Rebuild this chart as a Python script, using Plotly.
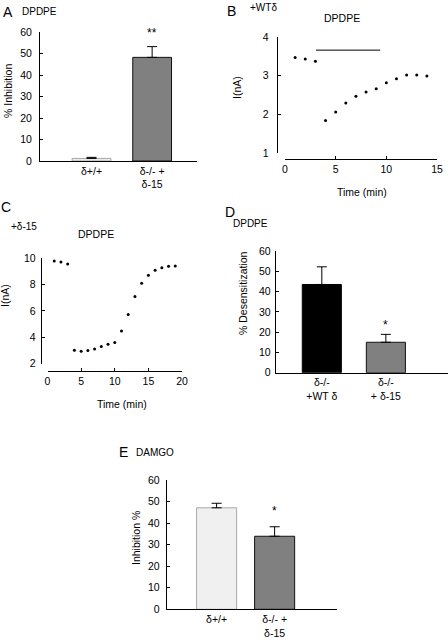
import plotly.graph_objects as go

W, H = 448, 640


def fx(px):
    return px / W


def fy(py):
    return 1 - py / H


# ---------------- data ----------------
a_categories = ["δ+/+", "δ-/- +<br>δ-15"]
a_values = [1.2, 48.2]
a_errors = [0.5, 5.0]

b_time = [1, 2, 3, 4, 5, 6, 7, 8, 9, 10, 11, 12, 13, 14]
b_current = [3.47, 3.43, 3.37, 1.84, 2.06, 2.29, 2.47, 2.58, 2.66, 2.82, 2.92, 3.02, 3.02, 2.99]
b_drug_on, b_drug_off, b_drug_level = 3.05, 9.4, 3.66

c_time = list(range(1, 20))
c_current = [9.80, 9.72, 9.57, 3.01, 2.94, 2.99, 3.11, 3.29, 3.47, 3.59,
             4.48, 5.72, 7.09, 8.10, 8.71, 9.09, 9.29, 9.39, 9.42]
c_drug_on, c_drug_off, c_drug_level = 3.35, 11.0, 10.43

d_categories = ["δ-/-<br>+WT δ", "δ-/-<br>+ δ-15"]
d_values = [43.5, 15.0]
d_errors = [8.7, 3.9]

e_categories = ["δ+/+", "δ-/- +<br>δ-15"]
e_values = [47.1, 33.9]
e_errors = [2.1, 4.4]

FONT = "Liberation Sans, Arial, sans-serif"
TICKF = dict(family=FONT, size=10.5, color="black")

fig = go.Figure()

# A
fig.add_trace(go.Bar(
    x=a_categories, y=a_values, xaxis="x", yaxis="y", width=0.64,
    marker=dict(color=["#ececec", "#808080"], line=dict(color=["#a8a8a8", "#111111"], width=1)),
    error_y=dict(type="data", array=a_errors, arrayminus=[0, 0], symmetric=False,
                 color="black", thickness=1, width=5),
))
# B
fig.add_trace(go.Scatter(
    x=b_time, y=b_current, xaxis="x2", yaxis="y2", mode="markers",
    marker=dict(color="black", size=3), cliponaxis=False,
))
# C
fig.add_trace(go.Scatter(
    x=c_time, y=c_current, xaxis="x3", yaxis="y3", mode="markers",
    marker=dict(color="black", size=3), cliponaxis=False,
))
# D
fig.add_trace(go.Bar(
    x=d_categories, y=d_values, xaxis="x4", yaxis="y4", width=0.61,
    marker=dict(color=["#000000", "#808080"], line=dict(color=["#000000", "#111111"], width=1)),
    error_y=dict(type="data", array=d_errors, arrayminus=[0, 0], symmetric=False,
                 color="black", thickness=1, width=5),
))
# E
fig.add_trace(go.Bar(
    x=e_categories, y=e_values, xaxis="x5", yaxis="y5", width=0.69,
    marker=dict(color=["#f0f0f0", "#808080"], line=dict(color=["#a8a8a8", "#111111"], width=1)),
    error_y=dict(type="data", array=e_errors, arrayminus=[0, 0], symmetric=False,
                 color="black", thickness=1, width=5),
))

line_common = dict(showline=True, linecolor="black", linewidth=1, showgrid=False,
                   zeroline=False, tickfont=TICKF, ticklen=3, tickcolor="black",
                   automargin=False, fixedrange=True)


def cat_x(dom, rng, anchor):
    return dict(domain=[fx(dom[0]), fx(dom[1])], range=rng, type="category",
                anchor=anchor, ticks="", ticklabelstandoff=0,
                **{k: v for k, v in line_common.items() if k not in ("ticklen",)})


def bar_y(dom, anchor, standoff):
    return dict(domain=[fy(dom[1]), fy(dom[0])], range=[0, 60], dtick=10, anchor=anchor,
                ticks="inside", ticklabelstandoff=standoff, **line_common)


fig.update_layout(
    width=W, height=H, margin=dict(l=0, r=0, t=0, b=0, autoexpand=False),
    paper_bgcolor="white", plot_bgcolor="rgba(0,0,0,0)",
    showlegend=False, font=dict(family=FONT, size=10.5, color="black"),
    bargap=0, hovermode=False,
    xaxis=cat_x((40, 197), [-0.85, 1.74], "y"),
    yaxis=bar_y((32, 161), "x", 5),
    xaxis2=dict(domain=[fx(285), fx(437)], range=[0, 15], dtick=5, anchor="free",
                position=fy(159), ticks="inside", **line_common),
    yaxis2=dict(domain=[fy(153), fy(37)], range=[1, 4], dtick=1, anchor="free",
                position=fx(276.7), ticks="inside", ticklabelstandoff=6, **line_common),
    xaxis3=dict(domain=[fx(47.5), fx(182)], range=[0, 20], dtick=5, anchor="free",
                position=fy(371), ticks="inside", **line_common),
    yaxis3=dict(domain=[fy(363.5), fy(258.3)], range=[2, 10], dtick=2, anchor="free",
                position=fx(40.7), ticks="inside", ticklabelstandoff=3, **line_common),
    xaxis4=cat_x((275.7, 448), [-0.72, 1.97], "y4"),
    yaxis4=bar_y((251, 372.7), "x4", 2),
    xaxis5=cat_x((166.7, 337.3), [-0.86, 2.08], "y5"),
    yaxis5=bar_y((480, 609.3), "x5", 4),
)

shapes = [
    dict(type="line", xref="x2", yref="y2", x0=b_drug_on, x1=b_drug_off,
         y0=b_drug_level, y1=b_drug_level, line=dict(color="black", width=1)),
    dict(type="line", xref="x3", yref="y3", x0=c_drug_on, x1=c_drug_off,
         y0=c_drug_level, y1=c_drug_level, line=dict(color="black", width=1)),
]
fig.update_layout(shapes=shapes)


def txt(text, x, y, size=10.5, angle=0):
    return dict(text=text, x=fx(x), y=fy(y), xref="paper", yref="paper",
                showarrow=False, xanchor="center", yanchor="middle", textangle=angle,
                font=dict(family=FONT, size=size, color="black"))


annotations = [
    txt("A", 8, 12, 14), txt("DPDPE", 39.5, 11, 10),
    txt("% Inhibition", 8, 91, 10.5, -90),
    txt("B", 231, 11.5, 14), txt("+WTδ", 263, 7.5, 10), txt("DPDPE", 341.5, 17.5, 10.5),
    txt("I(nA)", 237, 87, 10.5, -90), txt("Time (min)", 362, 192, 10.5),
    txt("C", 6, 207, 14), txt("+δ-15", 24, 226, 10), txt("DPDPE", 96, 234, 10.5),
    txt("I(nA)", 5, 296, 10.5, -90), txt("Time (min)", 122, 404, 10.5),
    txt("D", 230, 212, 14), txt("DPDPE", 251, 223.5, 10),
    txt("% Desensitization", 243, 293, 10.5, -90),
    txt("E", 123, 452, 14), txt("DAMGO", 155, 452, 10),
    txt("Inhibition %", 136, 538, 10.5, -90),
    # significance marks
    dict(text="**", x=a_categories[1], y=a_values[1] + a_errors[1], xref="x", yref="y",
         showarrow=False, yanchor="bottom", yshift=5, font=dict(family=FONT, size=12)),
    dict(text="*", x=d_categories[1], y=d_values[1] + d_errors[1], xref="x4", yref="y4",
         showarrow=False, yanchor="bottom", yshift=0, font=dict(family=FONT, size=12)),
    dict(text="*", x=e_categories[1], y=e_values[1] + e_errors[1], xref="x5", yref="y5",
         showarrow=False, yanchor="bottom", yshift=7, font=dict(family=FONT, size=12)),
]
fig.update_layout(annotations=annotations)

fig.write_html("out.html", config={"displayModeBar": False, "staticPlot": True},
               post_script="document.body.style.margin='0';document.body.style.overflow='hidden';")
